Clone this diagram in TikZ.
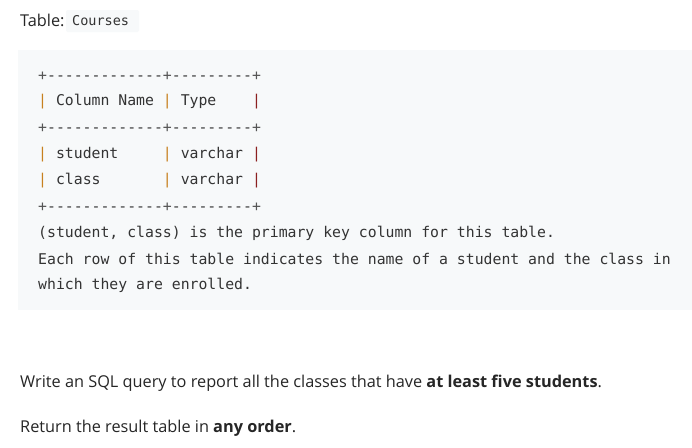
\documentclass[tikz,border=0pt]{standalone}
\usepackage{fontspec}
\setmainfont{Open Sans}
\newfontfamily\codefont{DejaVu Sans Mono}
\definecolor{bg}{HTML}{F7F9FA}
\definecolor{txt}{HTML}{262626}
\definecolor{code}{HTML}{333333}
\definecolor{pa}{HTML}{C7801E}
\definecolor{pb}{HTML}{8B2020}
\definecolor{pl}{HTML}{555555}
\newcommand{\pA}{\textcolor{pa}{|}}
\newcommand{\pB}{\textcolor{pb}{|}}
\newcommand{\pl}{\textcolor{pl}{+}}
\tikzset{
  line/.style={anchor=west,inner sep=0,font=\codefont\fontsize{14.8}{16}\selectfont,text=code},
  body/.style={anchor=west,inner sep=0,font=\fontsize{16.3}{18}\selectfont,text=txt}
}
\begin{document}
\begin{tikzpicture}[x=1pt,y=-1pt]
\useasboundingbox[fill=white] (0,0) rectangle (692,447);
\fill[bg] (18,50) rectangle (692,310);
\node[body] (tl) at (20,20) {Table:};
\fill[bg,rounded corners=2pt] (66,10) rectangle (139,32);
\node[line,font=\codefont\fontsize{13.5}{14}\selectfont] (tn) at (72,21) {Courses};
\node[line] (l1) at (38,76) {\pl-------------\pl---------\pl};
\node[line] (l2) at (38,102) {\pA{} Column Name \pA{} Type\ \ \ \ \pB};
\node[line] (l3) at (38,128) {\pl-------------\pl---------\pl};
\node[line] (l4) at (38,155) {\pA{} student\ \ \ \ \ \pA{} varchar \pB};
\node[line] (l5) at (38,181) {\pA{} class\ \ \ \ \ \ \ \pA{} varchar \pB};
\node[line] (l6) at (38,207) {\pl-------------\pl---------\pl};
\node[line] (l7) at (38,233) {(student, class) is the primary key column for this table.};
\node[line] (l8) at (38,259) {Each row of this table indicates the name of a student and the class in};
\node[line] (l9) at (38,285) {which they are enrolled.};
\node[body] (q1) at (20,383) {Write an SQL query to report all the classes that have \textbf{at least five students}.};
\node[body] (q2) at (20,428) {Return the result table in \textbf{any order}.};
\end{tikzpicture}
\end{document}
